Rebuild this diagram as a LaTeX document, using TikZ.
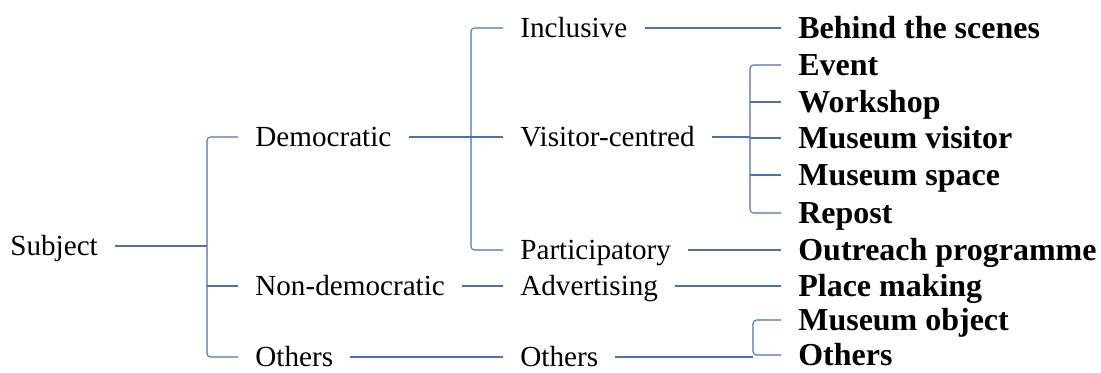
\documentclass[tikz,border=0pt]{standalone}
\usepackage{fontspec}
\setmainfont{Liberation Serif}
\definecolor{linkblue}{HTML}{4472C4}
\newcommand{\themept}[4][]{\node[theme,#1] at (#2) (#3) {#4}}

\begin{document}
\begin{tikzpicture}[x=0.02cm,y=-0.02cm,
	theme/.style={anchor=west,inner xsep=0.34cm,inner ysep=0pt,text depth=0pt,text height=11pt,font=\fontsize{16.6}{20}\selectfont},
	code/.style={text height=12pt,font=\bfseries\fontsize{18.2}{22}\selectfont},
	branch/.style={draw=linkblue,line width=0.6pt,rounded corners=2pt}]
					\useasboundingbox (0,0) rectangle (1101,372);
					
					\coordinate (b1) at (207,0);
					\coordinate (b2) at (471,0);
					\coordinate (b3) at (750,0);
					\coordinate (b4) at (753,0);
					
					\themept{-7,246}{subject}{Subject};
					
					\themept{238,137}{democ}{Democratic};
					\themept{238,286}{nondemoc}{Non-democratic};
					\themept{238,357}{othersa}{Others};
					
					\themept{503,28}{inclusive}{Inclusive};
					\themept{503,137}{visitor}{Visitor-centred};
					\themept{503,250}{particip}{Participatory};
					\themept{503,286}{advert}{Advertising};
					\themept{503,357}{othersb}{Others};
					
					\themept[code]{781,28}{behind}{Behind the scenes};
					\themept[code]{781,65}{event}{Event};
					\themept[code]{781,102}{workshop}{Workshop};
					\themept[code]{781,138}{musvisitor}{Museum visitor};
					\themept[code]{781,175}{musspace}{Museum space};
					\themept[code]{781,213}{repost}{Repost};
					\themept[code]{781,250}{outreach}{Outreach programme};
					\themept[code]{781,286}{placemaking}{Place making};
					\themept[code]{781,320}{musobject}{Museum object};
					\themept[code]{781,355}{othersc}{Others};
					
					\draw[branch] (subject.east) -- (b1 |- subject.east);
					\draw[branch] (democ.west) -- (b1 |- democ.west) -- (b1 |- othersa.west) -- (othersa.west);
					\draw[branch] (b1 |- nondemoc.west) -- (nondemoc.west);
					
					\draw[branch] (democ.east) -- (b2 |- democ.east);
					\draw[branch] (inclusive.west) -- (b2 |- inclusive.west) -- (b2 |- particip.west) -- (particip.west);
					\draw[branch] (b2 |- visitor.west) -- (visitor.west);
					\draw[branch] (nondemoc.east) -- (advert.west);
					\draw[branch] (othersa.east) -- (othersb.west);
					
					\draw[branch] (inclusive.east) -- (behind.west);
					\draw[branch] (visitor.east) -- (b3 |- visitor.east);
					\draw[branch] (event.west) -- (b3 |- event.west) -- (b3 |- repost.west) -- (repost.west);
					\foreach \n in {workshop,musvisitor,musspace}
						\draw[branch] (b3 |- \n.west) -- (\n.west);
					\draw[branch] (particip.east) -- (outreach.west);
					\draw[branch] (advert.east) -- (placemaking.west);
					\draw[branch] (othersb.east) -- (b4 |- othersb.east);
					\draw[branch] (musobject.west) -- (b4 |- musobject.west) -- (b4 |- othersc.west) -- (othersc.west);
				\end{tikzpicture}
\end{document}
